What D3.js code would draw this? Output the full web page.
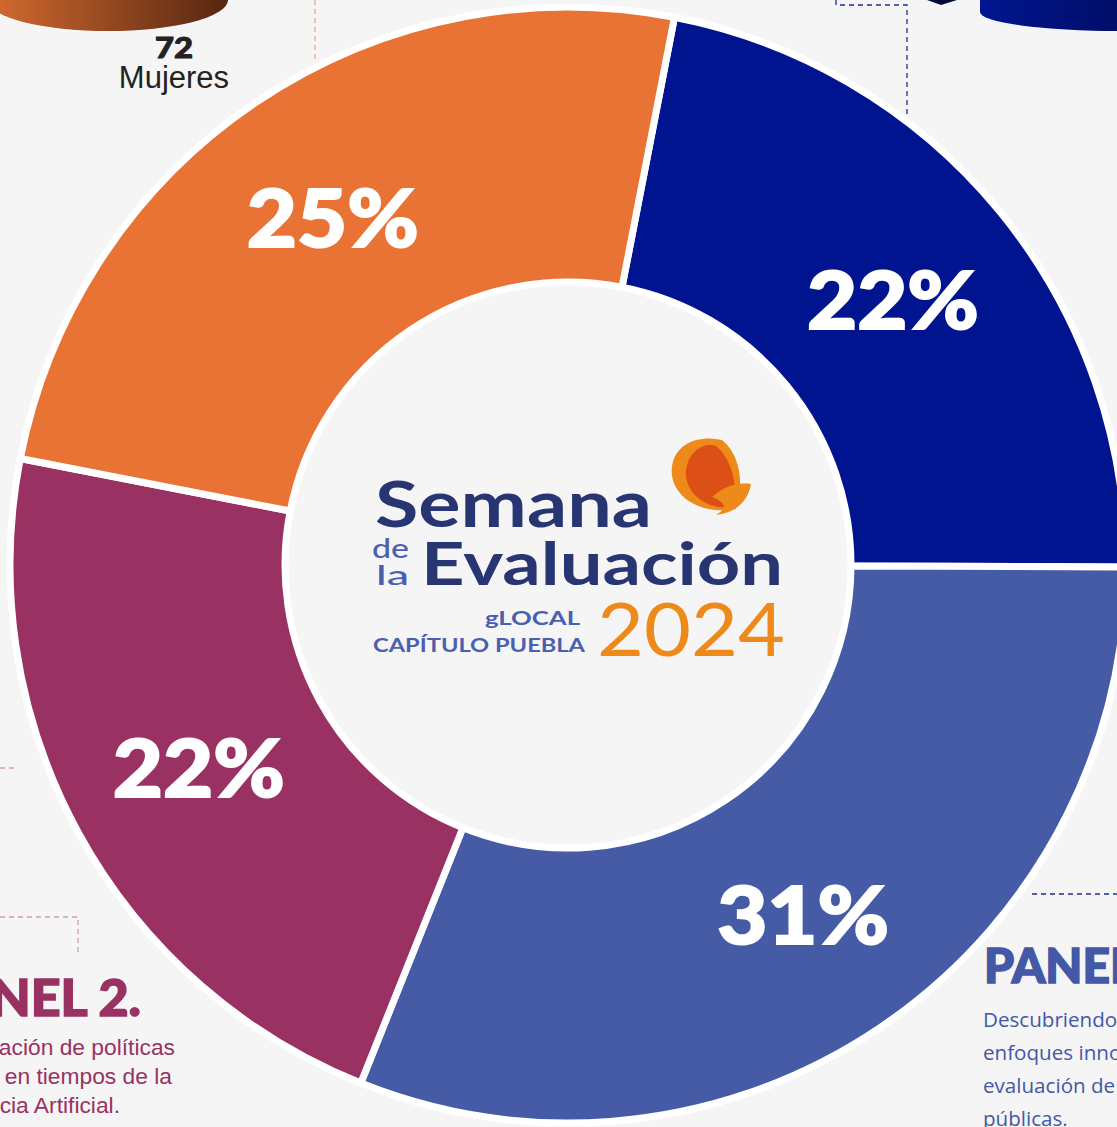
<!DOCTYPE html>
<html>
<head>
<meta charset="utf-8">
<script src="https://cdn.jsdelivr.net/npm/d3@7"></script>
<style>
  html, body { margin: 0; padding: 0; background: #f5f5f5; overflow: hidden; }
  svg { display: block; }
</style>
</head>
<body>
<div id="chart"></div>
<script>
// ========================
// Data
// ========================
const panels = ["Panel A", "Panel B", "Panel C", "Panel D"];
const percentages = [22, 31, 22, 25];
const sliceColors = ["#001490", "#455ba6", "#993262", "#e97334"];

const panelTextLeft = ["ación de políticas", "en tiempos de la", "cia Artificial."];
const panelTextRight = ["Descubriendo", "enfoques inno", "evaluación de", "públicas."];

// ========================
// Setup
// ========================
const width = 1117;
const height = 1127;
const cx = 568, cy = 565;
const innerR = 283, outerR = 558;
const startDeg = 11;

const svg = d3.select("#chart").append("svg")
    .attr("width", width)
    .attr("height", height);

svg.append("rect")
    .attr("width", width).attr("height", height)
    .attr("fill", "#f5f5f5");

const defs = svg.append("defs");
const brownGrad = defs.append("linearGradient").attr("id", "brownGrad");
brownGrad.append("stop").attr("offset", "0%").attr("stop-color", "#d56b30");
brownGrad.append("stop").attr("offset", "100%").attr("stop-color", "#552611");
const navyGrad = defs.append("linearGradient").attr("id", "navyGrad");
navyGrad.append("stop").attr("offset", "0%").attr("stop-color", "#001591");
navyGrad.append("stop").attr("offset", "100%").attr("stop-color", "#000840");

// ========================
// Decorations around the donut (pieces of the infographic)
// ========================
// top-left cylinder bottom
svg.append("ellipse")
    .attr("cx", 108).attr("cy", 0).attr("rx", 120).attr("ry", 31)
    .attr("fill", "url(#brownGrad)");

svg.append("text")
    .attr("x", 174).attr("y", 58)
    .attr("text-anchor", "middle")
    .attr("textLength", 38).attr("lengthAdjust", "spacingAndGlyphs")
    .style("font-family", "Lato, 'DejaVu Sans', sans-serif")
    .style("font-weight", 900)
    .style("font-size", "29px")
    .attr("fill", "#222")
    .attr("stroke", "#222").attr("stroke-width", 1)
    .text("72");

svg.append("text")
    .attr("x", 174).attr("y", 88)
    .attr("text-anchor", "middle")
    .style("font-family", "'Liberation Sans', Arial, sans-serif")
    .style("font-size", "31px")
    .attr("fill", "#222")
    .text("Mujeres");

// top-right cylinder bottom + chevron
svg.append("path")
    .attr("d", "M980,0 L980,12 A140,19 0 0 0 1260,12 L1260,0 Z")
    .attr("fill", "url(#navyGrad)");
svg.append("path")
    .attr("d", "M927,0 L957,0 L941,5 Z")
    .attr("fill", "#000a3c");

// dashed connectors
const dashed = (d, color) => svg.append("path")
    .attr("d", d)
    .attr("fill", "none")
    .attr("stroke", color)
    .attr("stroke-width", 1.3)
    .attr("stroke-dasharray", "5,4");

dashed("M315,0 L315,60", "#eaa88a");
dashed("M836,0 L836,5 L907,5 L907,118", "#1f2f92");
dashed("M0,768 L18,768", "#d59ab3");
dashed("M0,917 L78,917 L78,952", "#d59ab3");
dashed("M1032,894 L1117,894", "#1f2f92");

// panel headings and text
svg.append("text")
    .attr("x", 141).attr("y", 1016)
    .attr("text-anchor", "end")
    .style("font-family", "Lato, 'DejaVu Sans', sans-serif")
    .style("font-weight", 900)
    .style("font-size", "52px")
    .attr("fill", "#993262")
    .attr("stroke", "#993262").attr("stroke-width", 1.5)
    .text("NEL 2.");

svg.selectAll(".leftText")
    .data(panelTextLeft)
    .join("text")
    .attr("class", "leftText")
    .attr("x", (d, i) => [175, 172, 120][i])
    .attr("y", (d, i) => 1055 + i * 29)
    .attr("text-anchor", "end")
    .style("font-family", "'Liberation Sans', Arial, sans-serif")
    .style("font-size", "22.8px")
    .attr("fill", "#993262")
    .text(d => d);

svg.append("text")
    .attr("x", 984).attr("y", 983)
    .style("font-family", "Lato, 'DejaVu Sans', sans-serif")
    .style("font-weight", 900)
    .style("font-size", "48px")
    .attr("fill", "#4358a6")
    .attr("stroke", "#4358a6").attr("stroke-width", 1.5)
    .text("PANEL 3.");

svg.selectAll(".rightText")
    .data(panelTextRight)
    .join("text")
    .attr("class", "rightText")
    .attr("x", 983)
    .attr("y", (d, i) => 1027 + i * 33)
    .style("font-family", "'Open Sans', sans-serif")
    .style("font-size", "20.6px")
    .attr("fill", "#4358a6")
    .text(d => d);

// ========================
// Donut
// ========================
const pie = d3.pie()
    .sort(null)
    .value(d => d)
    .startAngle(startDeg * Math.PI / 180)
    .endAngle(startDeg * Math.PI / 180 + 2 * Math.PI);

const arc = d3.arc()
    .innerRadius(innerR)
    .outerRadius(outerR);

const g = svg.append("g")
    .attr("transform", `translate(${cx}, ${cy})`);

const arcs = pie(percentages);

g.selectAll("path.slice")
    .data(arcs)
    .join("path")
    .attr("class", "slice")
    .attr("d", arc)
    .attr("fill", (d, i) => sliceColors[i])
    .attr("stroke", "#ffffff")
    .attr("stroke-width", 7)
    .attr("stroke-linejoin", "round");

g.selectAll("text.pct")
    .data(arcs)
    .join("text")
    .attr("class", "pct")
    .attr("transform", d => `translate(${arc.centroid(d)})`)
    .attr("text-anchor", "middle")
    .attr("dy", "0.38em")
    .attr("textLength", 172).attr("lengthAdjust", "spacingAndGlyphs")
    .style("font-family", "Lato, 'DejaVu Sans', sans-serif")
    .style("font-weight", 900)
    .style("font-size", "80px")
    .attr("fill", "#ffffff")
    .attr("stroke", "#ffffff").attr("stroke-width", 2)
    .text(d => d.data + "%");

// ========================
// Centre logo
// ========================
const logo = svg.append("g");
const logoFont = "Lato, 'DejaVu Sans', sans-serif";

logo.append("text")
    .attr("x", 375).attr("y", 527)
    .attr("textLength", 277).attr("lengthAdjust", "spacingAndGlyphs")
    .style("font-family", logoFont).style("font-weight", 700)
    .style("font-size", "64px")
    .attr("fill", "#283573")
    .text("Semana");

logo.append("text")
    .attr("x", 421).attr("y", 585)
    .attr("textLength", 362).attr("lengthAdjust", "spacingAndGlyphs")
    .style("font-family", logoFont).style("font-weight", 700)
    .style("font-size", "60px")
    .attr("fill", "#283573")
    .text("Evaluación");

logo.append("text")
    .attr("x", 372).attr("y", 558)
    .attr("textLength", 37).attr("lengthAdjust", "spacingAndGlyphs")
    .style("font-family", logoFont).style("font-weight", 500)
    .style("font-size", "26px")
    .attr("fill", "#4a5fb0")
    .text("de");

logo.append("text")
    .attr("x", 376).attr("y", 585)
    .attr("textLength", 33).attr("lengthAdjust", "spacingAndGlyphs")
    .style("font-family", logoFont).style("font-weight", 500)
    .style("font-size", "26px")
    .attr("fill", "#4a5fb0")
    .text("la");

logo.append("text")
    .attr("x", 485).attr("y", 625)
    .attr("textLength", 95).attr("lengthAdjust", "spacingAndGlyphs")
    .style("font-family", logoFont).style("font-weight", 700)
    .style("font-size", "19px")
    .attr("fill", "#4a5fb0")
    .text("gLOCAL");

logo.append("text")
    .attr("x", 373).attr("y", 652)
    .attr("textLength", 212).attr("lengthAdjust", "spacingAndGlyphs")
    .style("font-family", logoFont).style("font-weight", 700)
    .style("font-size", "19px")
    .attr("fill", "#4a5fb0")
    .text("CAPÍTULO PUEBLA");

logo.append("text")
    .attr("x", 597).attr("y", 656)
    .attr("textLength", 188).attr("lengthAdjust", "spacingAndGlyphs")
    .style("font-family", logoFont).style("font-weight", 400)
    .style("font-size", "74px")
    .attr("fill", "#ee8a1a")
    .text("2024");

// butterfly
logo.append("path")
    .attr("d", "M736,509 C700,516 668,495 672,466 C676,442 700,435 722,440 C741,455 744,486 736,509 Z")
    .attr("fill", "#ee8a1a");
logo.append("path")
    .attr("d", "M733,507 C708,511 684,494 686,470 C689,449 706,442 716,446 C733,460 738,488 733,507 Z")
    .attr("fill", "#dc4f16");
logo.append("path")
    .attr("d", "M712,497 C724,486 738,482 751,484 C748,501 736,513 716,515 C724,510 730,504 712,497 Z")
    .attr("fill", "#ee8a1a");
</script>
</body>
</html>
